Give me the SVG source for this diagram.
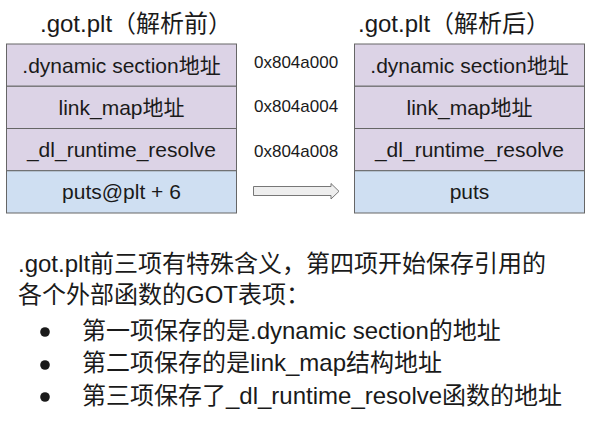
<svg xmlns="http://www.w3.org/2000/svg" width="594" height="428" viewBox="0 0 594 428">
<style>
text{font-family:"Liberation Sans","Noto Sans CJK SC",sans-serif;fill:#1a1a1a}
.title{font-size:24px}
.cell{font-size:21px;text-anchor:middle}
.addr{font-size:17px}
.body{font-size:24px}
.p{fill:#dcd3e6;stroke:#666;stroke-width:1}
.b{fill:#cfdff2;stroke:#666;stroke-width:1}
</style>
<rect width="594" height="428" fill="#ffffff"/>
<g id="title-before"><text class="title" x="40" y="32">.got.plt（解析前）</text></g>
<g id="title-after"><text class="title" x="358" y="32">.got.plt（解析后）</text></g>
<g id="table-before">
<g id="b-row1"><rect class="p" x="6.5" y="44" width="230" height="42.25"/><text class="cell" x="121.5" y="72.5">.dynamic section地址</text></g>
<g id="b-row2"><rect class="p" x="6.5" y="86.25" width="230" height="42.25"/><text class="cell" x="121.5" y="115">link_map地址</text></g>
<g id="b-row3"><rect class="p" x="6.5" y="128.5" width="230" height="42.25"/><text class="cell" x="121.5" y="157">_dl_runtime_resolve</text></g>
<g id="b-row4"><rect class="b" x="6.5" y="170.75" width="230" height="42.25"/><text class="cell" x="121.5" y="199">puts@plt + 6</text></g>
</g>
<g id="table-after">
<g id="a-row1"><rect class="p" x="354.5" y="44" width="230" height="42.25"/><text class="cell" x="469.5" y="72.5">.dynamic section地址</text></g>
<g id="a-row2"><rect class="p" x="354.5" y="86.25" width="230" height="42.25"/><text class="cell" x="469.5" y="115">link_map地址</text></g>
<g id="a-row3"><rect class="p" x="354.5" y="128.5" width="230" height="42.25"/><text class="cell" x="469.5" y="157">_dl_runtime_resolve</text></g>
<g id="a-row4"><rect class="b" x="354.5" y="170.75" width="230" height="42.25"/><text class="cell" x="469.5" y="199">puts</text></g>
</g>
<g id="addresses">
<text class="addr" x="254" y="68">0x804a000</text>
<text class="addr" x="254" y="112">0x804a004</text>
<text class="addr" x="254" y="157">0x804a008</text>
</g>
<g id="connectors">
<polygon points="253.5,186.5 331,186.5 331,183.5 339,191.3 331,199 331,195.5 253.5,195.5" fill="#eeeeee" stroke="#777" stroke-width="1"/>
</g>
<g id="notes">
<text class="body" x="18" y="272">.got.plt前三项有特殊含义，第四项开始保存引用的</text>
<text class="body" x="18" y="303">各个外部函数的GOT表项：</text>
<circle cx="45" cy="332" r="4.8" fill="#1a1a1a"/>
<text class="body" x="82" y="339">第一项保存的是.dynamic section的地址</text>
<circle cx="45" cy="365" r="4.8" fill="#1a1a1a"/>
<text class="body" x="82" y="371">第二项保存的是link_map结构地址</text>
<circle cx="45" cy="397" r="4.8" fill="#1a1a1a"/>
<text class="body" x="82" y="404">第三项保存了_dl_runtime_resolve函数的地址</text>
</g>
</svg>
